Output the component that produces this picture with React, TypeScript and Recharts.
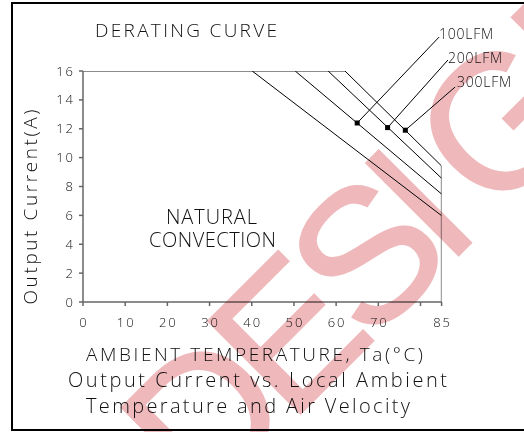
import React from 'react';
import { ComposedChart, Line, XAxis, YAxis, ReferenceLine, Scatter } from 'recharts';

// ---- data (temperature °C -> output current A) ----
const naturalCurve = [{ t: 40.1, a: 16 }, { t: 85, a: 5.98 }];
const lfm100Curve = [{ t: 50.3, a: 16 }, { t: 85, a: 7.48 }];
const lfm200Curve = [{ t: 58.1, a: 16 }, { t: 85, a: 8.57 }];
const lfm300Curve = [{ t: 62.1, a: 16 }, { t: 85, a: 9.42 }];
const topEdge = [{ t: 0, a: 16 }, { t: 62.1, a: 16 }];
const rightEdge = [{ t: 85, a: 9.42 }, { t: 85, a: 0 }];
const markerPoints = [{ t: 65, a: 12.4 }, { t: 72.2, a: 12.08 }, { t: 76.4, a: 11.9 }];
const leaderEnds = [{ t: 84.4, a: 18.35 }, { t: 86.5, a: 16.76 }, { t: 88.2, a: 14.89 }];
const curveLabels = ['100LFM', '200LFM', '300LFM'];
const xTicks = [0, 10, 20, 30, 40, 50, 60, 70, 80, 85];
const xTickHidden = [80];
const yTicks = [0, 2, 4, 6, 8, 10, 12, 14, 16];
const watermarkLetters = ['D', 'E', 'S', 'I', 'G', 'N'];

const FONT = '"Open Sans", "Liberation Sans", Arial, sans-serif';
const WM_FONT = '"Liberation Sans", Arial, sans-serif';
const AXIS = '#666';

const YTick = (props: any) => {
  const { x, y, payload } = props;
  return (
    <text x={x + 2} y={y} dy={4.5} textAnchor="end" fontSize={13} fontWeight={300} fontFamily={FONT} letterSpacing={2} fill="#111">
      {payload.value}
    </text>
  );
};

const XTick = (props: any) => {
  const { x, y, payload } = props;
  if (xTickHidden.includes(payload.value)) return <g />;
  return (
    <text x={x + 1} y={y} dy={9} textAnchor="middle" fontSize={13} fontWeight={300} fontFamily={FONT} letterSpacing={2} fill="#111">
      {payload.value}
    </text>
  );
};

const SquareDot = (props: any) => {
  const { cx, cy } = props;
  return <rect x={cx - 2.5} y={cy - 2.5} width={5} height={5} fill="#000" />;
};

const labelPos = [
  { x: 439, y: 39, w: 54 },
  { x: 448, y: 63, w: 54 },
  { x: 457, y: 87, w: 54 },
];
const wmX = [-302, -185, -73, 0, 115, 250];

export default function App() {
  return (
    <div style={{ position: 'absolute', left: 0, top: 0, width: 524, height: 432, background: '#fff', overflow: 'hidden' }}>
      <ComposedChart width={524} height={432} margin={{ top: 71, right: 82.4, left: 23, bottom: 100 }}>
        <XAxis
          type="number"
          dataKey="t"
          domain={[0, 85]}
          ticks={xTicks}
          interval={0}
          height={30}
          stroke={AXIS}
          strokeWidth={1.5}
          tickSize={4}
          tickMargin={12}
          tick={<XTick />}
          allowDataOverflow
        />
        <YAxis
          type="number"
          dataKey="a"
          domain={[0, 16]}
          ticks={yTicks}
          interval={0}
          width={60}
          stroke={AXIS}
          strokeWidth={1.5}
          tickSize={4}
          tickMargin={6}
          tick={<YTick />}
          allowDataOverflow
        />
        <Line data={topEdge} dataKey="a" stroke={AXIS} strokeWidth={1.5} dot={false} isAnimationActive={false} />
        <Line data={rightEdge} dataKey="a" stroke={AXIS} strokeWidth={1.5} dot={false} isAnimationActive={false} />
        <Line data={naturalCurve} dataKey="a" stroke="#000" strokeWidth={1} dot={false} isAnimationActive={false} />
        <Line data={lfm100Curve} dataKey="a" stroke="#000" strokeWidth={1} dot={false} isAnimationActive={false} />
        <Line data={lfm200Curve} dataKey="a" stroke="#000" strokeWidth={1} dot={false} isAnimationActive={false} />
        <Line data={lfm300Curve} dataKey="a" stroke="#000" strokeWidth={1} dot={false} isAnimationActive={false} />
        {markerPoints.map((p, i) => (
          <ReferenceLine
            key={'ld' + i}
            segment={[{ x: p.t, y: p.a }, { x: leaderEnds[i].t, y: leaderEnds[i].a }]}
            stroke="#000"
            strokeWidth={1}
            ifOverflow="visible"
          />
        ))}
        <Scatter data={markerPoints} dataKey="a" shape={<SquareDot />} isAnimationActive={false} />
      </ComposedChart>

      <svg width={524} height={432} style={{ position: 'absolute', left: 0, top: 0, pointerEvents: 'none' }}>
        <rect x={12} y={3} width={530} height={427} fill="none" stroke="#000" strokeWidth={2} />
        <g fontFamily={FONT} fontWeight={300} fill="#111">
          <text x={95} y={37} fontSize={19} textLength={182} lengthAdjust="spacing">DERATING CURVE</text>
          {curveLabels.map((l, i) => (
            <text key={l} x={labelPos[i].x} y={labelPos[i].y} fontSize={14} textLength={labelPos[i].w} lengthAdjust="spacing">{l}</text>
          ))}
          <text x={166} y={224} fontSize={20} textLength={91} lengthAdjust="spacing">NATURAL</text>
          <text x={149} y={247} fontSize={20} textLength={127} lengthAdjust="spacing">CONVECTION</text>
          <text transform="translate(37,207) rotate(-90)" textAnchor="middle" fontSize={19} textLength={195} lengthAdjust="spacing">Output Current(A)</text>
          <text x={86} y={361} fontSize={19} textLength={337} lengthAdjust="spacing">AMBIENT TEMPERATURE, Ta(°C)</text>
          <text x={68} y={387} fontSize={20} textLength={379} lengthAdjust="spacing">Output Current vs. Local Ambient</text>
          <text x={86} y={413} fontSize={20} textLength={324} lengthAdjust="spacing">Temperature and Air Velocity</text>
        </g>
      </svg>

      <svg width={524} height={432} style={{ position: 'absolute', left: 0, top: 0, pointerEvents: 'none', mixBlendMode: 'multiply' }}>
        <g transform="translate(465,249) rotate(-45)" fill="#efb9bc" stroke="#efb9bc" strokeWidth={2} fontFamily={WM_FONT} fontSize={190}>
          {watermarkLetters.map((c, i) => (
            <text key={c + i} x={wmX[i]} y={0} textAnchor="middle">{c}</text>
          ))}
        </g>
      </svg>
    </div>
  );
}
